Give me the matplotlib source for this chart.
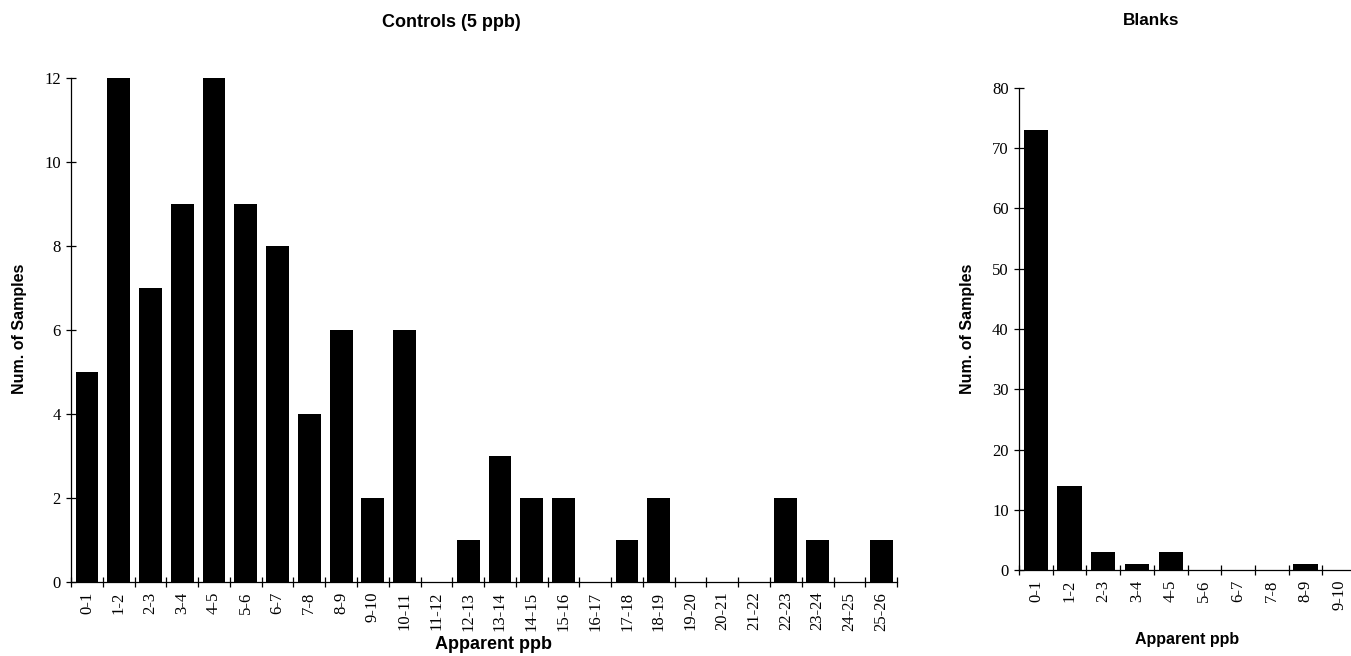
import matplotlib.pyplot as plt
import numpy as np

# intervalos de concentración aparente (ppb)
rangos_control = ['0-1', '1-2', '2-3', '3-4', '4-5', '5-6', '6-7', '7-8', '8-9',
                  '9-10', '10-11', '11-12', '12-13', '13-14', '14-15', '15-16',
                  '16-17', '17-18', '18-19', '19-20', '20-21', '21-22', '22-23',
                  '23-24', '24-25', '25-26']
muestras_control = [5, 12, 7, 9, 12, 9, 8, 4, 6, 2, 6, 0, 1, 3, 2, 2, 0, 1, 2,
                    0, 0, 0, 2, 1, 0, 1]

rangos_blanco = ['0-1', '1-2', '2-3', '3-4', '4-5', '5-6', '6-7', '7-8', '8-9', '9-10']
muestras_blanco = [73, 14, 3, 1, 3, 0, 0, 0, 1, 0]

serif = 'Liberation Serif'
sans = 'Liberation Sans'


def histograma(ax, rangos, valores, ymax, ypaso):
    n = len(rangos)
    pos = np.arange(n) + 0.5
    ax.bar(pos, valores, width=0.72, color='black')
    ax.set_xlim(0, n)
    ax.set_ylim(0, ymax)
    ax.set_yticks(np.arange(0, ymax + 1, ypaso))
    # marcas en los bordes de cada intervalo, etiquetas en el centro
    ax.set_xticks(np.arange(n + 1))
    ax.set_xticklabels([])
    ax.set_xticks(pos, minor=True)
    ax.set_xticklabels(rangos, minor=True, rotation=90, family=serif, fontsize=12)
    ax.tick_params(axis='x', which='major', direction='inout', length=7, width=0.9)
    ax.tick_params(axis='x', which='minor', length=0, pad=7)
    ax.tick_params(axis='y', direction='inout', length=7, width=0.9, pad=4)
    for t in ax.get_yticklabels():
        t.set_family(serif)
        t.set_fontsize(12)
    for s in ['top', 'right']:
        ax.spines[s].set_visible(False)
    for s in ['left', 'bottom']:
        ax.spines[s].set_linewidth(0.9)


fig = plt.figure(figsize=(13.51, 6.56), dpi=100)

ax1 = fig.add_axes([0.0526, 0.1128, 0.6114, 0.7683])
histograma(ax1, rangos_control, muestras_control, 12, 2)

ax2 = fig.add_axes([0.7543, 0.131, 0.2494, 0.735])
histograma(ax2, rangos_blanco, muestras_blanco, 80, 10)

fig.text(0.334, 0.966, 'Controls (5 ppb)', ha='center', va='center',
         family=sans, weight='bold', fontsize=13)
fig.text(0.852, 0.968, 'Blanks', ha='center', va='center',
         family=sans, weight='bold', fontsize=12.3)

fig.text(0.365, 0.017, 'Apparent ppb', ha='center', va='center',
         family=sans, weight='bold', fontsize=13)
fig.text(0.879, 0.025, 'Apparent ppb', ha='center', va='center',
         family=sans, weight='bold', fontsize=11.5)

fig.text(0.0148, 0.4985, 'Num. of Samples', ha='center', va='center', rotation=90,
         family=sans, weight='bold', fontsize=11.5)
fig.text(0.7165, 0.4985, 'Num. of Samples', ha='center', va='center', rotation=90,
         family=sans, weight='bold', fontsize=11.5)

fig.savefig('out.png', dpi=100)
